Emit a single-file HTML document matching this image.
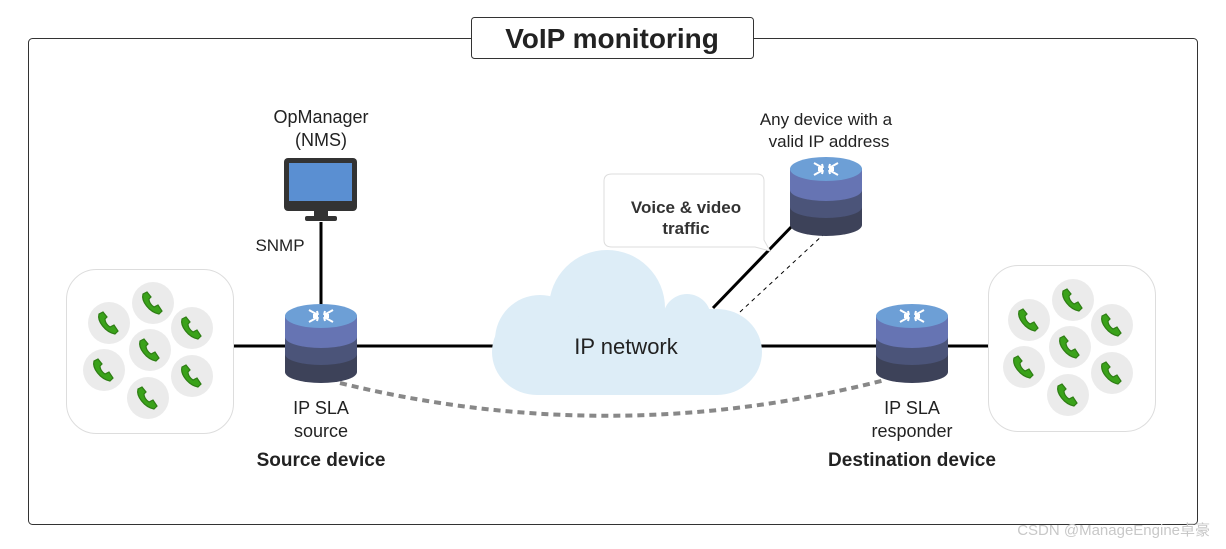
<!DOCTYPE html>
<html><head><meta charset="utf-8"><style>
body{margin:0;background:#fff;}
svg{display:block;font-family:"Liberation Sans",sans-serif;}
</style></head><body>
<svg width="1226" height="549" viewBox="0 0 1226 549" xmlns="http://www.w3.org/2000/svg">
<defs>
<g id="router">
  <path d="M-36,10 V66 A36,11 0 0 0 36,66 V10 Z" fill="#3d4259"/>
  <path d="M-36,10 V48 A36,11 0 0 0 36,48 V10 Z" fill="#4b5479"/>
  <path d="M-36,10 V31 A36,11 0 0 0 36,31 V10 Z" fill="#6674b3"/>
  <ellipse cx="0" cy="10" rx="36" ry="12" fill="#6d9fd6"/>
  <g stroke="#fff" stroke-width="2" fill="none">
    <path d="M-12,4 L-3,9 M-3,9 L-8,9 M-3,9 L-4,5"/>
    <path d="M12,4 L3,9 M3,9 L8,9 M3,9 L4,5"/>
    <path d="M-12,16 L-3,11 M-3,11 L-8,11 M-3,11 L-4,15"/>
    <path d="M12,16 L3,11 M3,11 L8,11 M3,11 L4,15"/>
  </g>
</g>
<g id="phone">
  <circle r="21" fill="#ebebeb"/>
  <path d="M-10,-9 C-12,-2 -4,9 6,11 L9,8 L5,2 L1,4 C-2,2 -4,-1 -4,-4 L-2,-6 L-6,-11 Z" fill="#3aa21a" stroke="#2e7d14" stroke-width="1.2"/>
</g>
<g id="phones">
  <use href="#phone" x="3" y="-47"/>
  <use href="#phone" x="-41" y="-27"/>
  <use href="#phone" x="42" y="-22"/>
  <use href="#phone" x="0" y="0"/>
  <use href="#phone" x="-46" y="20"/>
  <use href="#phone" x="42" y="26"/>
  <use href="#phone" x="-2" y="48"/>
</g>
</defs>

<rect x="28.5" y="38.5" width="1169" height="486" rx="4" fill="none" stroke="#333" stroke-width="1"/>
<rect x="471.5" y="17.5" width="282" height="41" rx="3" fill="#fff" stroke="#333"/>
<text x="612" y="48" text-anchor="middle" font-size="28" font-weight="bold" fill="#222">VoIP monitoring</text>

<line x1="233" y1="346" x2="290" y2="346" stroke="#000" stroke-width="3"/>
<line x1="355" y1="346" x2="495" y2="346" stroke="#000" stroke-width="3"/>
<line x1="760" y1="346" x2="880" y2="346" stroke="#000" stroke-width="3"/>
<line x1="945" y1="346" x2="990" y2="346" stroke="#000" stroke-width="3"/>
<line x1="321" y1="222" x2="321" y2="310" stroke="#000" stroke-width="3"/>
<line x1="713" y1="308" x2="795" y2="223" stroke="#000" stroke-width="3"/>
<line x1="740" y1="312" x2="823" y2="235" stroke="#000" stroke-width="1" stroke-dasharray="4,4"/>
<path d="M340,383 Q612,450 885,380" fill="none" stroke="#888" stroke-width="4" stroke-dasharray="7,5"/>

<g fill="#ddedf7">
  <rect x="492" y="309" width="270" height="86" rx="45"/>
  <circle cx="607" cy="308" r="58"/>
  <circle cx="687" cy="318" r="24"/>
  <circle cx="540" cy="340" r="45"/>
</g>
<text x="626" y="354" text-anchor="middle" font-size="22" fill="#222">IP network</text>

<path d="M612,174 H757 Q764,174 764,181 V240 L770,251 L755,247 H612 Q604,247 604,240 V181 Q604,174 612,174 Z" fill="#fff" stroke="#ddd"/>
<text x="686" y="213" text-anchor="middle" font-size="17" font-weight="bold" fill="#333">Voice &amp; video</text>
<text x="686" y="234" text-anchor="middle" font-size="17" font-weight="bold" fill="#333">traffic</text>

<rect x="284" y="158" width="73" height="53" rx="4" fill="#333"/>
<rect x="289" y="163" width="63" height="38" fill="#5a8fd2"/>
<rect x="314" y="211" width="14" height="6" fill="#333"/>
<rect x="305" y="216" width="32" height="5" rx="2" fill="#333"/>
<text x="321" y="123" text-anchor="middle" font-size="18" fill="#222">OpManager</text>
<text x="321" y="146" text-anchor="middle" font-size="18" fill="#222">(NMS)</text>
<text x="280" y="251" text-anchor="middle" font-size="17" fill="#222">SNMP</text>

<use href="#router" x="321" y="306"/>
<use href="#router" x="912" y="306"/>
<use href="#router" x="826" y="159"/>

<text x="826" y="125" text-anchor="middle" font-size="17" fill="#222">Any device with a</text>
<text x="829" y="147" text-anchor="middle" font-size="17" fill="#222">valid IP address</text>

<text x="321" y="414" text-anchor="middle" font-size="18" fill="#222">IP SLA</text>
<text x="321" y="437" text-anchor="middle" font-size="18" fill="#222">source</text>
<text x="321" y="466" text-anchor="middle" font-size="19" font-weight="bold" fill="#222">Source device</text>
<text x="912" y="414" text-anchor="middle" font-size="18" fill="#222">IP SLA</text>
<text x="912" y="437" text-anchor="middle" font-size="18" fill="#222">responder</text>
<text x="912" y="466" text-anchor="middle" font-size="19" font-weight="bold" fill="#222">Destination device</text>

<rect x="66.5" y="269.5" width="167" height="164" rx="30" fill="#fff" stroke="#ddd"/>
<use href="#phones" x="150" y="350"/>
<rect x="988.5" y="265.5" width="167" height="166" rx="30" fill="#fff" stroke="#ddd"/>
<use href="#phones" x="1070" y="347"/>

<text x="1210" y="535" text-anchor="end" font-size="15" fill="#c8c8c8" font-family="Liberation Sans, Noto Sans CJK SC, sans-serif">CSDN @ManageEngine卓豪</text>
</svg>
</body></html>
